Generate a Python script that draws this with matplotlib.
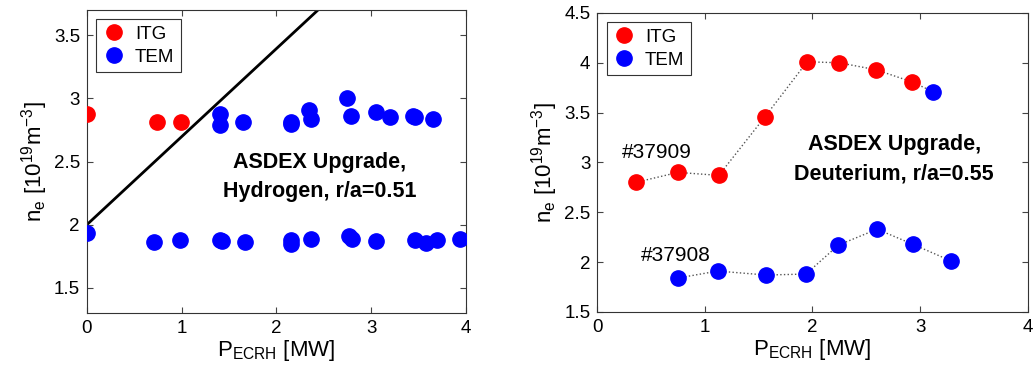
import matplotlib
matplotlib.use('Agg')
import matplotlib.pyplot as plt
from matplotlib.lines import Line2D

plt.rcParams['font.family'] = ['Liberation Sans', 'DejaVu Sans']
plt.rcParams['mathtext.default'] = 'regular'

# left panel: hydrogen, r/a=0.51
h_itg_x = [0.0, 0.74, 0.99]
h_itg_y = [2.88, 2.81, 2.81]
h_tem_x = [1.41, 1.41, 1.65, 2.15, 2.16, 2.35, 2.37, 2.75, 2.79, 3.05, 3.20, 3.44, 3.46, 3.65,
           0.0, 0.71, 0.98, 1.41, 1.43, 1.67, 2.15, 2.15, 2.37, 2.77, 2.80, 3.05, 3.46, 3.58, 3.70, 3.94]
h_tem_y = [2.88, 2.79, 2.81, 2.81, 2.80, 2.91, 2.84, 3.00, 2.86, 2.89, 2.85, 2.86, 2.85, 2.84,
           1.93, 1.86, 1.88, 1.88, 1.87, 1.86, 1.88, 1.85, 1.89, 1.91, 1.89, 1.87, 1.88, 1.855, 1.88, 1.89]
h_line_x = [0.0, 2.44]
h_line_y = [2.0, 3.7]

# right panel: deuterium, r/a=0.55
d_37909_x = [0.36, 0.75, 1.13, 1.56, 1.95, 2.25, 2.59, 2.92, 3.12]
d_37909_y = [2.80, 2.90, 2.87, 3.46, 4.01, 4.00, 3.93, 3.81, 3.71]
d_37909_mode = ['ITG', 'ITG', 'ITG', 'ITG', 'ITG', 'ITG', 'ITG', 'ITG', 'TEM']
d_37908_x = [0.75, 1.12, 1.57, 1.94, 2.24, 2.60, 2.93, 3.29]
d_37908_y = [1.84, 1.91, 1.87, 1.88, 2.17, 2.33, 2.18, 2.01]

colors = {'ITG': '#ff0000', 'TEM': '#0000ff'}
ms = 11
fs = 13.5

fig = plt.figure(figsize=(10.35, 3.7), dpi=100)
ax1 = fig.add_axes([0.084, 0.154, 0.366, 0.819])
ax2 = fig.add_axes([0.577, 0.157, 0.416, 0.808])

ylab = r'n$_e$ [10$^{19}$m$^{-3}$]'
xlab = r'P$_{ECRH}$ [MW]'

# left
ax1.plot(h_line_x, h_line_y, color='black', lw=2, zorder=2)
ax1.plot(h_itg_x, h_itg_y, 'o', color=colors['ITG'], ms=ms, zorder=3)
ax1.plot(h_tem_x, h_tem_y, 'o', color=colors['TEM'], ms=ms, zorder=3)
ax1.set_xlim(0, 4)
ax1.set_ylim(1.3, 3.7)
ax1.set_xticks([0, 1, 2, 3, 4])
ax1.set_yticks([1.5, 2, 2.5, 3, 3.5])
ax1.set_yticklabels(['1.5', '2', '2.5', '3', '3.5'])
ax1.text(2.46, 2.38, 'ASDEX Upgrade,\nHydrogen, r/a=0.51', ha='center', va='center',
         fontsize=15.5, fontweight='bold', linespacing=1.5)

# right
ax2.plot(d_37909_x, d_37909_y, ':', color='#555555', lw=1, zorder=2)
ax2.plot(d_37908_x, d_37908_y, ':', color='#555555', lw=1, zorder=2)
for x, y, m in zip(d_37909_x, d_37909_y, d_37909_mode):
    ax2.plot(x, y, 'o', color=colors[m], ms=ms, zorder=3)
ax2.plot(d_37908_x, d_37908_y, 'o', color=colors['TEM'], ms=ms, zorder=3)
ax2.set_xlim(0, 4)
ax2.set_ylim(1.5, 4.5)
ax2.set_xticks([0, 1, 2, 3, 4])
ax2.set_yticks([1.5, 2, 2.5, 3, 3.5, 4, 4.5])
ax2.set_yticklabels(['1.5', '2', '2.5', '3', '3.5', '4', '4.5'])
ax2.text(0.55, 3.1, '#37909', ha='center', va='center', fontsize=15)
ax2.text(0.73, 2.07, '#37908', ha='center', va='center', fontsize=15)
ax2.text(2.76, 3.03, 'ASDEX Upgrade,\nDeuterium, r/a=0.55', ha='center', va='center',
         fontsize=15.5, fontweight='bold', linespacing=1.5)

handles = [Line2D([], [], ls='', marker='o', color=colors['ITG'], ms=ms, label='ITG'),
           Line2D([], [], ls='', marker='o', color=colors['TEM'], ms=ms, label='TEM')]

for ax in (ax1, ax2):
    ax.set_xlabel(xlab, fontsize=16, labelpad=1)
    ax.set_ylabel(ylab, fontsize=16, labelpad=3)
    ax.tick_params(direction='in', top=True, right=True, labelsize=fs, length=4,
                   color='#444444', pad=5)
    for s in ax.spines.values():
        s.set_color('#333333')
        s.set_linewidth(0.8)
    leg = ax.legend(handles=handles, loc='upper left', fontsize=fs, fancybox=False,
                    edgecolor='#333333', framealpha=1, handletextpad=0.5,
                    borderaxespad=0.5, labelspacing=0.3, handlelength=1.2,
                    borderpad=0.35)
    leg.get_frame().set_linewidth(0.8)

fig.savefig('out.png', dpi=100)
